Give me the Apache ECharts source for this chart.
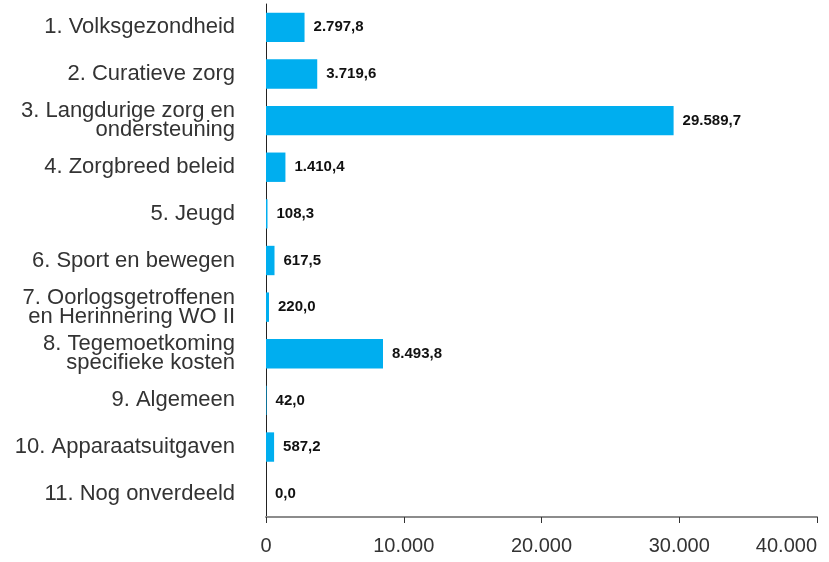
<!DOCTYPE html>
<html>
<head>
<meta charset="utf-8">
<script src="https://cdn.jsdelivr.net/npm/echarts@6/dist/echarts.min.js"></script>
<style>
  html, body { margin: 0; padding: 0; background: #fff; }
  #chart { width: 829px; height: 562px; }
</style>
</head>
<body>
<div id="chart"></div>
<script>
// categorieën (van boven naar beneden)
const categories = [
  "1. Volksgezondheid",
  "2. Curatieve zorg",
  "3. Langdurige zorg en\nondersteuning",
  "4. Zorgbreed beleid",
  "5. Jeugd",
  "6. Sport en bewegen",
  "7. Oorlogsgetroffenen\nen Herinnering WO II",
  "8. Tegemoetkoming\nspecifieke kosten",
  "9. Algemeen",
  "10. Apparaatsuitgaven",
  "11. Nog onverdeeld"
];
const values = [2797.8, 3719.6, 29589.7, 1410.4, 108.3, 617.5, 220.0, 8493.8, 42.0, 587.2, 0.0];
const xTicks = [0, 10000, 20000, 30000, 40000];

// Nederlandse notatie: 1.234,5
function nl(v, dec) {
  const parts = v.toFixed(dec).split(".");
  parts[0] = parts[0].replace(/\B(?=(\d{3})+(?!\d))/g, ".");
  return parts.join(",");
}

const chart = echarts.init(document.getElementById("chart"));
chart.setOption({
  animation: false,
  grid: { left: 266, right: 12, top: 4, bottom: 45, outerBoundsMode: "none" },
  xAxis: {
    type: "value",
    min: xTicks[0],
    max: xTicks[xTicks.length - 1],
    interval: 10000,
    splitLine: { show: false },
    axisLine: { show: true, lineStyle: { color: "#8c8c8c", width: 2 } },
    axisTick: { show: true, length: 6, lineStyle: { color: "#333", width: 1 } },
    axisLabel: {
      margin: 19,
      fontSize: 20,
      color: "#333",
      fontFamily: "Liberation Sans",
      alignMaxLabel: "right",
      formatter: v => nl(v, 0)
    }
  },
  yAxis: {
    type: "category",
    inverse: true,
    data: categories,
    axisLine: { show: true, lineStyle: { color: "#222", width: 1 } },
    axisTick: { show: false },
    axisLabel: {
      margin: 31,
      fontSize: 22,
      lineHeight: 19,
      color: "#333",
      fontFamily: "Liberation Sans",
      align: "right"
    }
  },
  series: [{
    type: "bar",
    data: values,
    barCategoryGap: "37%",
    itemStyle: { color: "#00aeef" },
    label: {
      show: true,
      position: "right",
      distance: 9,
      fontSize: 15,
      fontWeight: "bold",
      color: "#111",
      fontFamily: "Liberation Sans",
      formatter: p => nl(p.value, 1)
    }
  }]
});
</script>
</body>
</html>
